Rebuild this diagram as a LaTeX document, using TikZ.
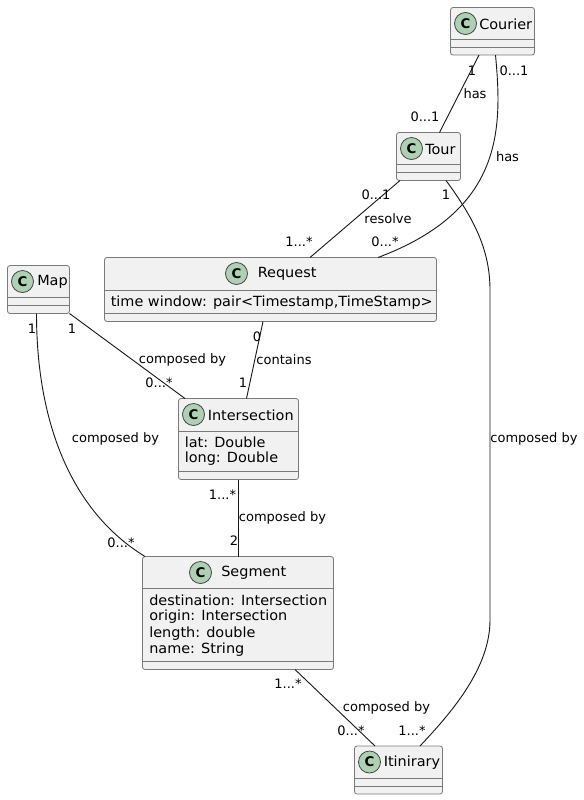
\documentclass[tikz,border=0pt]{standalone}
\usepackage{fontspec}
\setmainfont{DejaVu Sans}
\newfontfamily\boxfont[FakeStretch=1.032]{DejaVu Sans}
\usetikzlibrary{calc}
\definecolor{boxfill}{HTML}{F1F1F1}
\definecolor{boxline}{HTML}{7A7A7A}
\definecolor{inkline}{HTML}{181818}
\definecolor{spot}{HTML}{ADD1B2}
\tikzset{
  x=0.75pt,y=-0.75pt,
  classbox/.style={draw=boxline,fill=boxfill,line width=0.6pt,rounded corners=1.9pt,inner sep=0pt,outer sep=0pt},
  divider/.style={draw=boxline,line width=0.6pt},
  spotc/.style={circle,draw=inkline!80,fill=spot,line width=0.6pt,minimum size=16.5pt,inner sep=0pt,font=\fontsize{10pt}{10pt}\selectfont\bfseries},
  title/.style={anchor=west,inner sep=0pt,font=\boxfont\fontsize{10.5pt}{12pt}\selectfont,text=black},
  attr/.style={anchor=west,inner sep=0pt,font=\boxfont\fontsize{10.5pt}{12pt}\selectfont,text=black},
  lab/.style={inner sep=0pt,font=\fontsize{9.75pt}{11pt}\selectfont,text=black},
  link/.style={draw=inkline,line width=0.68pt},
}
% name, x1, y1, x2, y2, div1, div2, spot x, title x; the title is in \titletext
\newcommand{\umlclass}[9]{%
  \node[classbox,minimum width=#4*0.75pt-#2*0.75pt,minimum height=#5*0.75pt-#3*0.75pt,anchor=north west] (#1) at (#2,#3) {};
  \draw[divider] (#2,#6) -- (#4,#6);
  \draw[divider] (#2,#7) -- (#4,#7);
  \node[spotc] (#1spot) at (#8,#3+16) {C};
  \node[title] (#1title) at (#9,#3+16.5) {\titletext};
}
\newcommand{\titletext}{}
\begin{document}
\begin{tikzpicture}
\useasboundingbox (0,0) rectangle (584,800);
\fill[white] (0,0) rectangle (584,800);

\renewcommand{\titletext}{Courier}
\umlclass{courier}{450.5}{7.5}{534.5}{55}{39.5}{47.5}{465.5}{479}
\renewcommand{\titletext}{Tour}
\umlclass{tour}{396.5}{132.5}{460.5}{180.5}{164.5}{172.5}{411.5}{425}
\renewcommand{\titletext}{Map}
\umlclass{map}{7.5}{265.5}{69.5}{313.5}{297.5}{305.5}{22.5}{37}
\renewcommand{\titletext}{Request}
\umlclass{request}{104.5}{257.5}{436.5}{321.5}{290}{313.5}{236.5}{257.5}
\renewcommand{\titletext}{Intersection}
\umlclass{intersection}{178.5}{398.5}{298.5}{479.5}{431}{471}{193.5}{207.5}
\renewcommand{\titletext}{Segment}
\umlclass{segment}{142.5}{556.5}{333.5}{669.5}{588.5}{661.5}{200.5}{221}
\renewcommand{\titletext}{Itinirary}
\umlclass{itinirary}{354.5}{746}{442.5}{794}{778.5}{786.5}{369.5}{383.5}

\node[attr] (a1) at (110.5,302.5) {time window: pair<Timestamp,TimeStamp>};
\node[attr] (a2) at (184.5,442.5) {lat: Double};
\node[attr] (a3) at (184.5,458.5) {long: Double};
\node[attr] (a4) at (149,600.5) {destination: Intersection};
\node[attr] (a5) at (149,617) {origin: Intersection};
\node[attr] (a6) at (149,633.5) {length: double};
\node[attr] (a7) at (149,649.5) {name: String};

% connectors: offsets in px from the centre of each box's edge
\draw[link] ([xshift=-13.5*0.75pt]courier.south) -- ([xshift=11*0.75pt]tour.north);
\draw[link] ([xshift=3*0.75pt]courier.south) .. controls +(7,75) and +(125,-47) .. ([xshift=107.5*0.75pt]request.north);
\draw[link] ([xshift=-28.5*0.75pt]tour.south) -- ([xshift=39.5*0.75pt]request.north);
\draw[link] ([xshift=17.5*0.75pt]tour.south) .. controls +(28,38) and (490,250) .. (490,290) -- (490,620) .. controls (490,668) and (452,712) .. ([xshift=21.5*0.75pt]itinirary.north);
\draw[link] (map.south east) -- ([xshift=-53.5*0.75pt]intersection.north);
\draw[link] ([xshift=-2*0.75pt]map.south) .. controls +(0,107) and +(-75,-46) .. ([xshift=-93*0.75pt]segment.north);
\draw[link] ([xshift=-7.5*0.75pt]request.south) -- ([xshift=8*0.75pt]intersection.north);
\draw[link] (intersection.south) -- (segment.north -| intersection.south);
\draw[link] ([xshift=57*0.75pt]segment.south) -- ([xshift=-23.5*0.75pt]itinirary.north);

% labels
\node[lab] (l1) at (472,71) {1};
\node[lab] (l2) at (475,94) {has};
\node[lab] (l3) at (425,117) {0...1};
\node[lab] (l4) at (514,71) {0...1};
\node[lab] (l5) at (507.5,157) {has};
\node[lab] (l6) at (446,195) {1};
\node[lab] (l7) at (376,195) {0...1};
\node[lab] (l8) at (388,219) {resolve};
\node[lab] (l9) at (299,242) {1...*};
\node[lab] (l10) at (385,242) {0...*};
\node[lab] (l11) at (32,329) {1};
\node[lab] (l12) at (72,329) {1};
\node[lab] (l13) at (182.5,360) {composed by};
\node[lab] (l14) at (159,383) {0...*};
\node[lab] (l15) at (257,337) {0};
\node[lab] (l16) at (284,360) {contains};
\node[lab] (l17) at (243,383) {1};
\node[lab] (l18) at (115.5,439) {composed by};
\node[lab] (l19) at (534,439) {composed by};
\node[lab] (l20) at (222.5,495) {1...*};
\node[lab] (l21) at (282.5,518) {composed by};
\node[lab] (l22) at (234,541) {2};
\node[lab] (l23) at (121,543) {0...*};
\node[lab] (l24) at (288,684) {1...*};
\node[lab] (l25) at (386.5,708) {composed by};
\node[lab] (l26) at (351,731) {0...*};
\node[lab] (l27) at (412,731) {1...*};
\end{tikzpicture}
\end{document}
